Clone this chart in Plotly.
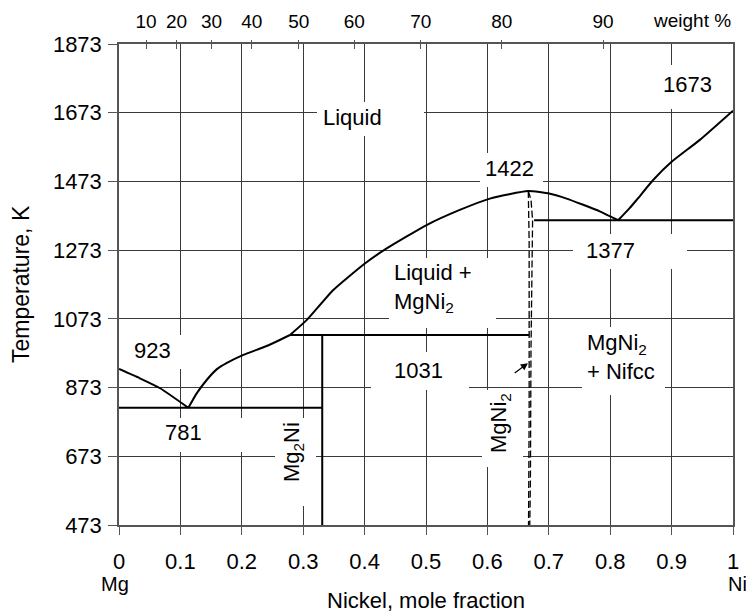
import plotly.graph_objects as go

# ---------------- data ----------------
# liquidus, Mg side (mole fraction Ni, temperature K)
liq_left_x = [0.0, 0.034, 0.067, 0.113]
liq_left_T = [927, 900, 871, 814]
# liquidus rising from the Mg eutectic to the peritectic
liq_rise_x = [0.113, 0.1265, 0.1428, 0.159, 0.175, 0.2025, 0.2405, 0.2785]
liq_rise_T = [814, 856, 895, 926, 944, 968, 994, 1026]
# liquidus of MgNi2 (congruent maximum)
liq_mid_x = [0.2785, 0.306, 0.349, 0.401, 0.436, 0.501, 0.555, 0.604, 0.6666,
             0.702, 0.729, 0.756, 0.783, 0.813]
liq_mid_T = [1026, 1070, 1157, 1235, 1278, 1346, 1390, 1423, 1445,
             1437, 1423, 1405, 1386, 1360]
# liquidus, Ni side
liq_right_x = [0.813, 0.832, 0.843, 0.870, 0.900, 0.946, 1.0]
liq_right_T = [1360, 1396, 1419, 1477, 1530, 1594, 1679]

# invariant lines
eut1_x = [0.0, 0.331]; eut1_T = [814, 814]            # Mg eutectic (781)
per_x = [0.2785, 0.668]; per_T = [1026, 1026]         # peritectic (1031)
eut2_x = [0.676, 1.0]; eut2_T = [1360, 1360]          # Ni-side eutectic (1377)
mg2ni_x = [0.331, 0.331]; mg2ni_T = [1026, 473]       # Mg2Ni line

# MgNi2 homogeneity range (dashed)
mgni2_l_x = [0.6666, 0.668, 0.668, 0.667]
mgni2_l_T = [1445, 1300, 800, 473]
mgni2_r_x = [0.6666, 0.671, 0.6736, 0.671, 0.670, 0.669]
mgni2_r_T = [1445, 1420, 1360, 980, 595, 473]

# arrow pointing at MgNi2
arrow_tail = (0.642, 912)
arrow_head = (0.666, 944)

# axes
x_ticks = [0, 0.1, 0.2, 0.3, 0.4, 0.5, 0.6, 0.7, 0.8, 0.9, 1.0]
x_ticktext = ["0", "0.1", "0.2", "0.3", "0.4", "0.5", "0.6", "0.7", "0.8", "0.9", "1"]
y_ticks = [473, 673, 873, 1073, 1273, 1473, 1673, 1873]
wt_labels = [10, 20, 30, 40, 50, 60, 70, 80, 90]
M_NI, M_MG = 58.69, 24.305
wt_pos = [(w / M_NI) / (w / M_NI + (100 - w) / M_MG) for w in wt_labels]

# ---------------- layout helpers ----------------
L, R, T_, B = 119, 13, 44, 88
W, H = 746, 613
XR = (0.0, 1.0)
YR = (473, 1873)
PW, PH = W - L - R, H - T_ - B


def px2x(px):
    return XR[0] + (px - L) / PW * (XR[1] - XR[0])


def px2y(py):
    return YR[0] + (H - B - py) / PH * (YR[1] - YR[0])


def ppx(px):
    return (px - L) / PW


def ppy(py):
    return (H - B - py) / PH


FONT = "Liberation Sans, Arial, sans-serif"
fig = go.Figure()

for xs, ts in [(liq_left_x, liq_left_T), (liq_rise_x, liq_rise_T), (liq_mid_x, liq_mid_T),
               (liq_right_x, liq_right_T)]:
    fig.add_trace(go.Scatter(x=xs, y=ts, mode="lines",
                             line=dict(color="black", width=2, shape="spline", smoothing=0.5),
                             showlegend=False, hoverinfo="skip"))
for xs, ts in [(eut1_x, eut1_T), (per_x, per_T), (eut2_x, eut2_T), (mg2ni_x, mg2ni_T)]:
    fig.add_trace(go.Scatter(x=xs, y=ts, mode="lines", line=dict(color="black", width=2),
                             showlegend=False, hoverinfo="skip"))
for xs, ts in [(mgni2_l_x, mgni2_l_T), (mgni2_r_x, mgni2_r_T)]:
    fig.add_trace(go.Scatter(x=xs, y=ts, mode="lines",
                             line=dict(color="black", width=1.3, dash="7px,3px"),
                             showlegend=False, hoverinfo="skip"))
# empty traces so that the top axes are drawn
for ax in ["x2", "x3"]:
    fig.add_trace(go.Scatter(x=[None], y=[None], xaxis=ax, showlegend=False, hoverinfo="skip"))

# white label boxes (pixel boxes) that interrupt the grid
boxes = [
    (317, 424, 102, 136), (480, 543, 153, 187), (655, 722, 65, 109), (573, 687, 234, 269),
    (389, 496, 258, 328), (125, 186, 335, 369), (371, 469, 352, 390), (150, 250, 418, 452),
    (582, 665, 327, 395), (275, 316, 418, 506), (482, 523, 390, 467),
]
for x0, x1, y0, y1 in boxes:
    fig.add_shape(type="rect", xref="x", yref="y", x0=px2x(x0), x1=px2x(x1), y0=px2y(y1), y1=px2y(y0),
                  fillcolor="white", line=dict(width=0), layer="between")

labels = [
    # text, px x, px y, xanchor, angle
    ("Liquid", 321, 117, "left", 0),
    ("1422", 509, 168, "center", 0),
    ("1673", 687, 84, "center", 0),
    ("1377", 610, 250, "center", 0),
    ("Liquid +<br>MgNi<sub>2</sub>", 392, 288, "left", 0),
    ("923", 152, 350, "center", 0),
    ("1031", 418, 370, "center", 0),
    ("781", 183, 432, "center", 0),
    ("MgNi<sub>2</sub><br>+ Nifcc", 585, 357, "left", 0),
    ("Mg<sub>2</sub>Ni", 293, 452, "center", -90),
    ("MgNi<sub>2</sub>", 500, 423, "center", -90),
]
for txt, px, py, xa, ang in labels:
    fig.add_annotation(text=txt, x=px2x(px), y=px2y(py), xref="x", yref="y", showarrow=False,
                       xanchor=xa, yanchor="middle", textangle=ang, align="left",
                       font=dict(family=FONT, size=22, color="black"))

# arrow
fig.add_annotation(x=arrow_head[0], y=arrow_head[1], ax=arrow_tail[0], ay=arrow_tail[1],
                   xref="x", yref="y", axref="x", ayref="y", text="", showarrow=True,
                   arrowhead=2, arrowsize=1.2, arrowwidth=1.2, arrowcolor="black")

# Mg / Ni under axis ends, weight % on top, axis titles
small = dict(family=FONT, size=20, color="black")
paper_texts = [
    # text, px x, px y, xanchor, angle, font
    ("Mg", 115, 584, "center", 0, small),
    ("Ni", 726, 584, "left", 0, small),
    ("weight %", 733, 21, "right", 0, dict(family=FONT, size=19, color="black")),
    ("Nickel, mole fraction", 426, 600, "center", 0, dict(family=FONT, size=22, color="black")),
    ("Temperature, K", 21, 284, "center", -90, dict(family=FONT, size=23, color="black")),
]
for txt, px, py, xa, ang, fnt in paper_texts:
    fig.add_annotation(text=txt, x=ppx(px), y=ppy(py), xref="paper", yref="paper", showarrow=False,
                       xanchor=xa, yanchor="middle", textangle=ang, font=fnt)

grid = "#3a3a3a"
axcol = "#555555"
fig.update_layout(
    width=W, height=H, margin=dict(l=L, r=R, t=T_, b=B),
    paper_bgcolor="white", plot_bgcolor="white",
    font=dict(family=FONT, size=22, color="black"),
    xaxis=dict(range=list(XR), tickvals=x_ticks, ticktext=x_ticktext, ticks="outside", ticklen=8,
               tickcolor=axcol, showgrid=True, gridcolor=grid, gridwidth=1, showline=True,
               linecolor=axcol, linewidth=1.5, mirror=True, zeroline=False, automargin=False,
               tickfont=dict(size=22), ticklabelstandoff=8),
    yaxis=dict(range=list(YR), tickvals=y_ticks, ticks="outside", ticklen=9, tickcolor=axcol,
               showgrid=True, gridcolor=grid, gridwidth=1, showline=True, linecolor=axcol,
               linewidth=1.5, mirror=True, zeroline=False, automargin=False,
               tickfont=dict(size=22), ticklabelstandoff=2),
    xaxis2=dict(overlaying="x", side="top", range=list(XR), tickvals=wt_pos,
                ticktext=[str(w) for w in wt_labels], ticks="outside", ticklen=3, tickcolor=axcol,
                showgrid=False, showline=False, zeroline=False, automargin=False,
                tickfont=dict(size=19), ticklabelstandoff=4),
    xaxis3=dict(overlaying="x", side="top", range=list(XR), tickvals=wt_pos, ticks="inside",
                ticklen=5, tickcolor=axcol, showticklabels=False, showgrid=False, showline=False,
                zeroline=False, automargin=False),
)

fig.write_html("out.html")
